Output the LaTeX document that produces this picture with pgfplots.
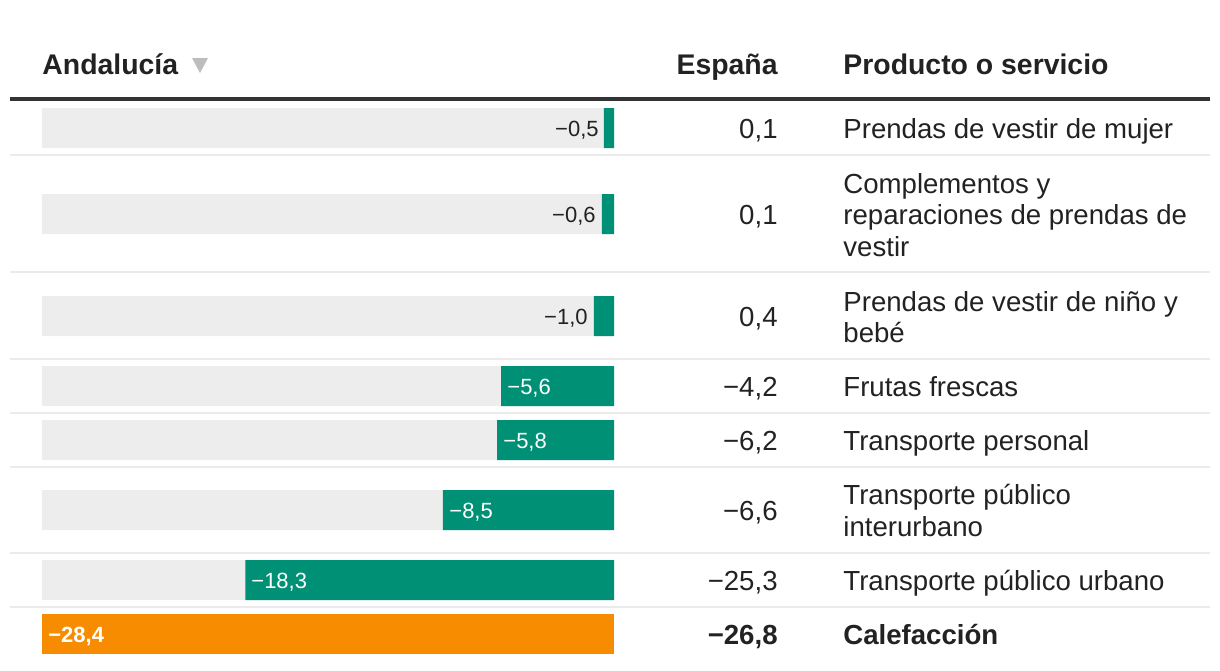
\documentclass[border=0pt]{standalone}
\usepackage{pgfplots}
\pgfplotsset{compat=1.18}
\usepackage{fontspec}
\setmainfont{Liberation Sans}
\definecolor{grn}{HTML}{009075}
\definecolor{org}{HTML}{F88C00}
\definecolor{bgg}{HTML}{EDEDED}
\definecolor{sepc}{HTML}{EBEBEB}
\definecolor{txt}{HTML}{222222}
\definecolor{hdr}{HTML}{333333}
\definecolor{tri}{HTML}{BDBDBD}
\newcommand\bodyf{\fontsize{13.8}{16}\selectfont}
\newcommand\hdrf{\fontsize{14.2}{16}\selectfont\bfseries}
\newcommand\lblf{\fontsize{11}{13}\selectfont}
\begin{document}
\begin{tikzpicture}
% bars axis: x in data units (percent), y in pixel rows
\begin{axis}[at={(0,0)}, anchor=south west, scale only axis,
  width=610pt, height=335pt,
  xmin=-30.485, xmax=30.088, ymin=0, ymax=670, y dir=reverse,
  axis lines=none, clip=false]
\addplot[xbar, bar shift=0pt, bar width=40, fill=bgg, draw=none] coordinates {
 (-28.4,128) (-28.4,214) (-28.4,316) (-28.4,386) (-28.4,440) (-28.4,510) (-28.4,580)};
\addplot[xbar, bar shift=0pt, bar width=40, fill=grn, draw=none] coordinates {
 (-0.5,128) (-0.6,214) (-1.0,316) (-5.6,386) (-5.8,440) (-8.5,510) (-18.3,580)};
\addplot[xbar, bar shift=0pt, bar width=40, fill=org, draw=none] coordinates {
 (-28.4,634)};
\end{axis}
% text axis: pixel coordinates
\begin{axis}[at={(0,0)}, anchor=south west, scale only axis,
  width=610pt, height=335pt,
  xmin=0, xmax=1220, ymin=0, ymax=670, y dir=reverse,
  axis lines=none, clip=false]
\path (axis cs:0,0) rectangle (axis cs:1220,670);
% header
\node[anchor=base west, inner sep=0pt, font=\hdrf, text=txt] at (axis cs:42,74) {Andalucía};
\fill[tri] (axis cs:192,58) -- (axis cs:208,58) -- (axis cs:200,73) -- cycle;
\node[anchor=base east, inner sep=0pt, font=\hdrf, text=txt] at (axis cs:778,74) {España};
\node[anchor=base west, inner sep=0pt, font=\hdrf, text=txt] at (axis cs:843,74) {Producto o servicio};
\draw[hdr, line width=2pt] (axis cs:10,99) -- (axis cs:1210,99);
% separators
\pgfplotsinvokeforeach{155,272,359,413,467,553,607}{
  \draw[sepc, line width=1pt] (axis cs:10,#1) -- (axis cs:1210,#1);
}
% bar labels
\node[anchor=base east, inner sep=0pt, font=\lblf, text=txt] at (axis cs:599,136) {−0,5};
\node[anchor=base east, inner sep=0pt, font=\lblf, text=txt] at (axis cs:596,222) {−0,6};
\node[anchor=base east, inner sep=0pt, font=\lblf, text=txt] at (axis cs:588,324) {−1,0};
\node[anchor=base west, inner sep=0pt, font=\lblf, text=white] at (axis cs:507,394) {−5,6};
\node[anchor=base west, inner sep=0pt, font=\lblf, text=white] at (axis cs:503,448) {−5,8};
\node[anchor=base west, inner sep=0pt, font=\lblf, text=white] at (axis cs:449,518) {−8,5};
\node[anchor=base west, inner sep=0pt, font=\lblf, text=white] at (axis cs:251,588) {−18,3};
\node[anchor=base west, inner sep=0pt, font=\lblf\bfseries, text=white] at (axis cs:48,642) {−28,4};
% España values
\node[anchor=base east, inner sep=0pt, font=\bodyf, text=txt] at (axis cs:778,138) {0,1};
\node[anchor=base east, inner sep=0pt, font=\bodyf, text=txt] at (axis cs:778,224) {0,1};
\node[anchor=base east, inner sep=0pt, font=\bodyf, text=txt] at (axis cs:778,326) {0,4};
\node[anchor=base east, inner sep=0pt, font=\bodyf, text=txt] at (axis cs:778,396) {−4,2};
\node[anchor=base east, inner sep=0pt, font=\bodyf, text=txt] at (axis cs:778,450) {−6,2};
\node[anchor=base east, inner sep=0pt, font=\bodyf, text=txt] at (axis cs:778,520) {−6,6};
\node[anchor=base east, inner sep=0pt, font=\bodyf, text=txt] at (axis cs:778,590) {−25,3};
\node[anchor=base east, inner sep=0pt, font=\bodyf\bfseries, text=txt] at (axis cs:778,644) {−26,8};
% product names
\node[anchor=base west, inner sep=0pt, font=\bodyf, text=txt] at (axis cs:843,138) {Prendas de vestir de mujer};
\node[anchor=base west, inner sep=0pt, font=\bodyf, text=txt] at (axis cs:843,193) {Complementos y};
\node[anchor=base west, inner sep=0pt, font=\bodyf, text=txt] at (axis cs:843,224) {reparaciones de prendas de};
\node[anchor=base west, inner sep=0pt, font=\bodyf, text=txt] at (axis cs:843,256) {vestir};
\node[anchor=base west, inner sep=0pt, font=\bodyf, text=txt] at (axis cs:843,311) {Prendas de vestir de niño y};
\node[anchor=base west, inner sep=0pt, font=\bodyf, text=txt] at (axis cs:843,342) {bebé};
\node[anchor=base west, inner sep=0pt, font=\bodyf, text=txt] at (axis cs:843,396) {Frutas frescas};
\node[anchor=base west, inner sep=0pt, font=\bodyf, text=txt] at (axis cs:843,450) {Transporte personal};
\node[anchor=base west, inner sep=0pt, font=\bodyf, text=txt] at (axis cs:843,504) {Transporte público};
\node[anchor=base west, inner sep=0pt, font=\bodyf, text=txt] at (axis cs:843,536) {interurbano};
\node[anchor=base west, inner sep=0pt, font=\bodyf, text=txt] at (axis cs:843,590) {Transporte público urbano};
\node[anchor=base west, inner sep=0pt, font=\bodyf\bfseries, text=txt] at (axis cs:843,644) {Calefacción};
\end{axis}
\end{tikzpicture}
\end{document}
